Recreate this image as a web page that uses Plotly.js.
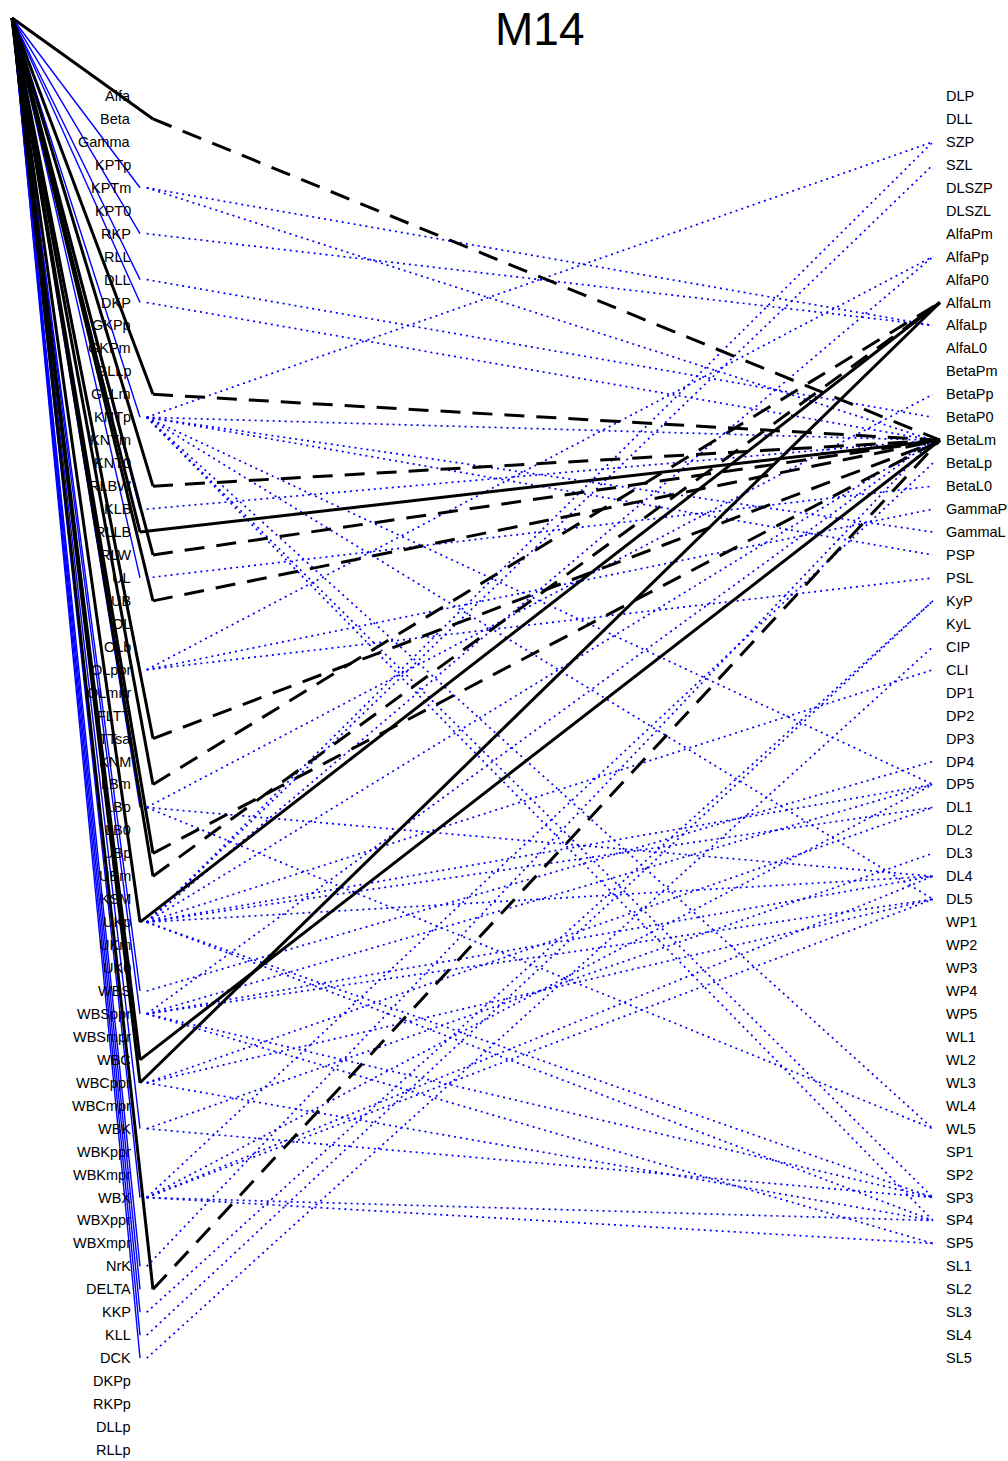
<!DOCTYPE html>
<html><head><meta charset="utf-8">
<script src="https://cdn.plot.ly/plotly-3.0.1.min.js"></script>
<style>body{margin:0;background:#fff}</style>
</head><body><div id="chart" style="width:1008px;height:1461px"></div>
<script>
const leftNodes = ["Alfa","Beta","Gamma","KPTp","KPTm","KPT0","RKP","RLL","DLL","DKP",
 "GKPp","GKPm","GLLp","GLLm","KNTp","KNTm","KNT0","RLBW","KLB","RLLB",
 "RLW","UL","UB","OL","OLb","OLpor","OLmnr","FLTT","TTsa","KNM",
 "LBm","LBp","LB0","UBp","UBm","KSM","UKp","UKm","UK0","WBS",
 "WBSppr","WBSmpr","WBC","WBCppr","WBCmpr","WBK","WBKppr","WBKmpr","WBX","WBXppr",
 "WBXmpr","NrK","DELTA","KKP","KLL","DCK","DKPp","RKPp","DLLp","RLLp"];
const rightNodes = ["DLP","DLL","SZP","SZL","DLSZP","DLSZL","AlfaPm","AlfaPp","AlfaP0","AlfaLm",
 "AlfaLp","AlfaL0","BetaPm","BetaPp","BetaP0","BetaLm","BetaLp","BetaL0","GammaP","GammaL",
 "PSP","PSL","KyP","KyL","CIP","CLI","DP1","DP2","DP3","DP4",
 "DP5","DL1","DL2","DL3","DL4","DL5","WP1","WP2","WP3","WP4",
 "WP5","WL1","WL2","WL3","WL4","WL5","SP1","SP2","SP3","SP4",
 "SP5","SL1","SL2","SL3","SL4","SL5"];
const title = "M14";

// links from the top-left root to the left-hand variables
const rootBlack = ["Beta","GLLm","RLBW","RLLB","RLW","UB","TTsa","LBm","UBp","UBm","UKp","WBC","WBCppr","DELTA"];
const rootBlue = ["KPTm","RKP","DLL","DKP","KNTp","KLB","UL","OLpor","LBp","UKp","WBS","WBSppr","WBCppr","WBK","WBX","NrK","DELTA","KKP","KLL","DCK"];

// black paths: [from, to]
const dashedPaths = [["Beta","BetaLm"],["GLLm","BetaLm"],["RLBW","BetaLm"],["RLW","BetaLm"],["UB","BetaLm"],
 ["TTsa","BetaLm"],["LBm","AlfaLm"],["UBp","BetaLm"],["UBm","AlfaLm"],["DELTA","BetaLm"]];
const solidPaths = [["RLLB","BetaLm"],["UKp","AlfaLm"],["WBC","BetaLm"],["WBCppr","AlfaLm"]];

// blue dotted paths
const dottedPaths = [
 ["KPTm","AlfaLp"],["KPTm","BetaLm"],["RKP","AlfaLp"],["DLL","BetaP0"],["DKP","BetaLm"],
 ["KNTp","SZP"],["KNTp","BetaLm"],["KNTp","GammaL"],["KNTp","PSP"],["KNTp","DP5"],["KNTp","DL5"],
 ["KNTp","WL5"],["KNTp","SP3"],["KNTp","SP4"],
 ["KLB","BetaLm"],["UL","BetaL0"],["OLpor","AlfaPp"],["OLpor","GammaP"],["OLpor","PSL"],
 ["LBp","DL4"],["LBp","WL5"],["LBp","BetaPp"],
 ["UKp","SZP"],["UKp","SZL"],["UKp","AlfaPp"],["UKp","BetaLm"],["UKp","CLI"],["UKp","DP5"],["UKp","DL1"],["UKp","DL4"],["UKp","SP3"],["UKp","SP4"],
 ["WBS","DP4"],
 ["WBSppr","DP5"],["WBSppr","DL4"],["WBSppr","DL5"],["WBSppr","SP3"],["WBSppr","SP5"],["WBSppr","BetaLm"],
 ["WBCppr","DL1"],["WBCppr","DL5"],["WBCppr","SP4"],
 ["WBK","DL3"],["WBK","SP3"],
 ["WBX","BetaLp"],["WBX","DP5"],["WBX","DL4"],["WBX","DL5"],["WBX","SP4"],["WBX","SP5"],
 ["NrK","BetaLm"],["KKP","KyP"],["KLL","KyP"],["DCK","CIP"]
];

const L = n => leftNodes.indexOf(n);
const R = n => rightNodes.indexOf(n);
// horizontal anchor positions (0 = left column, 1 = right column)
const X = {root:-0.179, rootRow:-3.40, leftBlue:-0.0165, leftBlack:0, leftDot:-0.008, rightDot:0.991, rightBlack:1.0};

function seg(list, x0f, y0f, x1f, y1f){
  const xs=[], ys=[];
  list.forEach(p=>{ xs.push(x0f(p), x1f(p), null); ys.push(y0f(p), y1f(p), null); });
  return {x:xs, y:ys};
}
const traces = [];
const rb = seg(rootBlue, ()=>X.root, ()=>X.rootRow, ()=>X.leftBlue, n=>L(n));
traces.push({type:'scatter',mode:'lines',x:rb.x,y:rb.y,line:{color:'#0000ff',width:1.4},hoverinfo:'skip'});
const rk = seg(rootBlack, ()=>X.root, ()=>X.rootRow, n=>(solidPaths.some(p=>p[0]===n)?X.leftBlue:X.leftBlack), n=>L(n));
traces.push({type:'scatter',mode:'lines',x:rk.x,y:rk.y,line:{color:'#000',width:3},hoverinfo:'skip'});
const dt = seg(dottedPaths, ()=>X.leftDot, p=>L(p[0]), ()=>X.rightDot, p=>R(p[1]));
traces.push({type:'scatter',mode:'lines',x:dt.x,y:dt.y,line:{color:'#0000ff',width:1.7,dash:'2px,4px'},hoverinfo:'skip'});
const ds = seg(dashedPaths, ()=>X.leftBlack, p=>L(p[0]), ()=>X.rightBlack, p=>R(p[1]));
traces.push({type:'scatter',mode:'lines',x:ds.x,y:ds.y,line:{color:'#000',width:3,dash:'20px,12px'},hoverinfo:'skip'});
const so = seg(solidPaths, ()=>X.leftBlue, p=>L(p[0]), ()=>X.rightBlack, p=>R(p[1]));
traces.push({type:'scatter',mode:'lines',x:so.x,y:so.y,line:{color:'#000',width:3},hoverinfo:'skip'});

const ann = [];
const F = 'Liberation Sans, Arial, sans-serif';
leftNodes.forEach((n,i)=>ann.push({x:-0.0254,y:i,text:n,showarrow:false,xanchor:'right',yanchor:'middle',font:{family:F,size:14.5,color:'#000'}}));
rightNodes.forEach((n,i)=>ann.push({x:1.005,y:i,text:n,showarrow:false,xanchor:'left',yanchor:'middle',font:{family:F,size:14.5,color:'#000'}}));
ann.push({x:0.491,y:-2.9,text:title,showarrow:false,xanchor:'center',yanchor:'middle',font:{family:F,size:46,color:'#000'}});

Plotly.newPlot('chart', traces, {
  width:1008, height:1461, margin:{l:0,r:0,t:0,b:0}, showlegend:false,
  paper_bgcolor:'#fff', plot_bgcolor:'#fff',
  xaxis:{range:[-0.1944,1.0864],visible:false,fixedrange:true},
  yaxis:{range:[59.48,-4.183],visible:false,fixedrange:true},
  annotations:ann
}, {staticPlot:true});
</script></body></html>
